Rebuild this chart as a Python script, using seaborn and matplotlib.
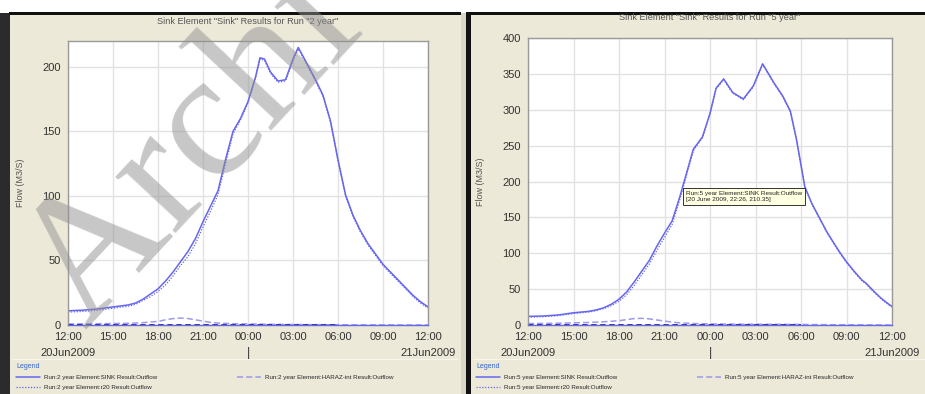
"""Sink element outflow hydrographs for the 2 year and 5 year runs."""
import matplotlib
matplotlib.use("Agg")
import matplotlib.pyplot as plt
from matplotlib.patches import Rectangle
import seaborn as sns

W, H = 925, 394

BLUE = "#6666EE"
LIGHT_BLUE = "#9A9AEE"
NAVY = "#22227A"
BEIGE = "#ECE9D8"

TICK_HOURS = [0, 3, 6, 9, 12, 15, 18, 21, 24]
TICK_LABELS = ["12:00", "15:00", "18:00", "21:00", "00:00", "03:00", "06:00", "09:00", "12:00"]

# 2 year run (hours after 20Jun2009 12:00)
HOURS_2YR = [0, 1, 2, 3, 4, 4.5, 5, 5.5, 6, 6.5, 7, 7.5, 8, 8.5, 9, 9.5, 10, 10.5, 11, 11.5,
             12, 12.5, 12.8, 13.1, 13.5, 14, 14.5, 15, 15.35, 16, 16.5, 17, 17.5, 18, 18.5,
             19, 19.5, 20, 20.5, 21, 21.5, 22, 22.5, 23, 23.5, 24]
SINK_2YR = [11, 11.5, 12.5, 14, 15.5, 17, 20, 24, 28, 34, 41, 49, 57, 67, 80, 92, 104, 128, 150, 160,
            173, 192, 207, 206, 196, 189, 190, 206, 215, 201, 190, 178, 158, 128, 101,
            85, 73, 63, 55, 47, 41, 35, 29, 23, 18, 14]
R20_2YR = [10, 10.5, 11.5, 13, 14.5, 16, 19, 22, 26, 31, 38, 46, 53, 63, 76, 88, 101, 125, 148, 159,
           172, 191, 206, 205, 195, 188, 189, 205, 214, 200, 189, 177, 157, 127, 100,
           84, 72, 62, 54, 46, 40, 34, 28, 22, 17, 13]
HOURS_HARAZ_2YR = [0, 2, 4, 5, 6, 6.5, 7, 7.5, 8, 8.5, 9, 9.5, 10, 11, 12, 14, 16, 18, 20, 24]
HARAZ_2YR = [0.8, 1, 1.3, 1.8, 2.8, 4, 5, 5.4, 5, 4, 3, 2, 1.5, 1, 0.8, 0.5, 0.3, 0.2, 0.1, 0]

# 5 year run
HOURS_5YR = [0, 1, 2, 3, 4, 4.5, 5, 5.5, 6, 6.5, 7, 7.5, 8, 8.5, 9, 9.5, 10, 10.43, 10.9, 11.5,
             12, 12.4, 12.9, 13.5, 14.2, 14.85, 15.47, 16.2, 16.8, 17.3, 17.7, 18.25, 18.7,
             19.2, 19.7, 20.2, 20.6, 21, 21.5, 22, 22.3, 22.8, 23.3, 23.85, 24]
SINK_5YR = [12, 12.5, 14, 17, 19, 21, 24, 29, 36, 46, 60, 75, 90, 110, 128, 145, 178, 210, 245, 262,
            295, 330, 343, 324, 315, 333, 364, 338, 319, 298, 259, 193, 170,
            150, 130, 113, 100, 88, 75, 63, 58, 47, 37, 28, 26]
R20_5YR = [11, 11.5, 13, 16, 18, 20, 23, 27, 33, 42, 55, 70, 85, 104, 122, 140, 174, 207, 243, 261,
           294, 329, 342, 323, 314, 332, 363, 337, 318, 297, 258, 192, 169,
           149, 129, 112, 99, 87, 74, 62, 57, 46, 36, 27, 25]
HOURS_HARAZ_5YR = [0, 2, 4, 5, 6, 6.5, 7, 7.5, 8, 8.5, 9, 9.5, 10, 11, 12, 14, 16, 18, 20, 24]
HARAZ_5YR = [2, 2.5, 3.5, 4.5, 6, 7.5, 9, 9.3, 8.5, 7, 5.5, 4, 3, 2, 1.5, 1.2, 1, 0.8, 0.4, 0]

# the dark dashed trace lying on the zero line until 06:00
BASE_HOURS = [0, 18]
BASE_FLOW = [0, 0]


def _rect(x0, y0, x1, y1):
    # pixel box (top-left origin) -> figure fraction
    return [x0 / W, 1 - y1 / H, (x1 - x0) / W, (y1 - y0) / H]


def _box(fig, x0, y0, x1, y1, color, z=0):
    l, b, w, h = _rect(x0, y0, x1, y1)
    fig.add_artist(Rectangle((l, b), w, h, transform=fig.transFigure,
                             facecolor=color, edgecolor="none", zorder=z))


def _draw_panel(fig, ax_box, legend_x, run, ymax, hours, sink, r20, hours_haraz, haraz):
    ax = fig.add_axes(_rect(*ax_box))
    ax.set_facecolor("white")

    sns.lineplot(x=hours, y=r20, ax=ax, color=BLUE, lw=0.9, linestyle=(0, (1, 1.3)),
                 label=f"Run:{run} Element:r20 Result:Outflow")
    sns.lineplot(x=hours, y=sink, ax=ax, color=BLUE, lw=1.1,
                 label=f"Run:{run} Element:SINK Result:Outflow")
    sns.lineplot(x=hours_haraz, y=haraz, ax=ax, color=LIGHT_BLUE, lw=1.1, linestyle=(0, (4, 2)),
                 label=f"Run:{run} Element:HARAZ-int Result:Outflow")
    sns.lineplot(x=BASE_HOURS, y=BASE_FLOW, ax=ax, color=NAVY, lw=1.3, linestyle=(0, (3, 2)))

    ax.set_xlim(0, 24)
    ax.set_ylim(0, ymax)
    ax.set_xticks(TICK_HOURS, TICK_LABELS)
    ax.set_yticks(list(range(0, int(ymax) + 1, 50)))
    ax.grid(True, color="#E2E2E2", lw=1)
    ax.set_axisbelow(True)
    ax.tick_params(axis="both", labelsize=8, colors="#555555", labelcolor="#333333",
                   length=3, width=0.8, pad=2)
    for sp in ax.spines.values():
        sp.set_color("#9A9A9A")
        sp.set_linewidth(1)
    ax.spines["bottom"].set_color(BLUE)
    ax.set_xlabel("")
    ax.set_ylabel("Flow (M3/S)", fontsize=6.5, color="#555555")
    ax.yaxis.set_label_coords((legend_x + 10 - ax_box[0]) / (ax_box[2] - ax_box[0]), 0.5)

    # date labels under the first / last tick and the midnight marker
    for hx, txt in [(0, "20Jun2009"), (12, "|"), (24, "21Jun2009")]:
        ax.annotate(txt, xy=(hx, 0), xycoords=("data", "axes fraction"), xytext=(0, -20),
                    textcoords="offset points", ha="center", va="center",
                    fontsize=8 if txt != "|" else 9, color="#333333")

    cx = (ax_box[0] + ax_box[2]) / 2
    fig.text(cx / W, 1 - (ax_box[1] - 20) / H,
             f'Sink Element "Sink" Results for Run "{run}"', ha="center", va="center",
             fontsize=6.6, color="#555555")

    # legend strip
    fig.text((legend_x + 1) / W, 1 - 367 / H, "Legend", fontsize=5, color="#3366CC",
             ha="left", va="center")
    handles, labels = ax.get_legend_handles_labels()
    ax.legend_ = None
    fig.legend([handles[1], handles[0]], [labels[1], labels[0]], loc="upper left",
               bbox_to_anchor=((legend_x + 1) / W, 1 - 375 / H), frameon=False,
               fontsize=4.5, handlelength=3.8, handletextpad=0.7, labelspacing=0.65,
               borderpad=0, borderaxespad=0)
    fig.legend([handles[2]], [labels[2]], loc="upper left",
               bbox_to_anchor=((legend_x + 222) / W, 1 - 375 / H), frameon=False,
               fontsize=4.5, handlelength=3.8, handletextpad=0.7, borderpad=0, borderaxespad=0)
    return ax


def sink_results():
    sns.set_style("white")
    plt.rcParams["font.family"] = ["Liberation Sans", "DejaVu Sans"]

    fig = plt.figure(figsize=(W / 100, H / 100), dpi=100)
    fig.patch.set_facecolor("white")

    # window chrome
    _box(fig, 9, 13, 461, H, BEIGE)
    _box(fig, 0, 13, 10, H, "#2B2B2B")
    _box(fig, 9, 12, 461, 15, "#111111")
    _box(fig, 461, 13, 467, H, "#D9D6C9")
    _box(fig, 470, 13, W, H, BEIGE)
    _box(fig, 466, 12, 471, H, "#111111")
    _box(fig, 466, 12, W, 15, "#111111")
    _box(fig, 12, 359, 458, 360, "#F7F5EC")
    _box(fig, 473, 359, W, 360, "#F7F5EC")

    _draw_panel(fig, (68, 41, 428, 325), 15, "2 year", 220,
                HOURS_2YR, SINK_2YR, R20_2YR, HOURS_HARAZ_2YR, HARAZ_2YR)
    ax = _draw_panel(fig, (528, 38, 892, 325), 475, "5 year", 400,
                     HOURS_5YR, SINK_5YR, R20_5YR, HOURS_HARAZ_5YR, HARAZ_5YR)

    ax.text(10.4, 187, "Run:5 year Element:SINK Result:Outflow\n[20 June 2009, 22:26, 210.35]",
            ha="left", va="top", fontsize=4.6, color="#222222", linespacing=1.35,
            bbox=dict(boxstyle="square,pad=0.4", facecolor="#FFFFE1", edgecolor="#333333", lw=0.7),
            zorder=5)

    # watermark over the left panel
    fig.text(85 / W, 1 - 330 / H, "Archi", rotation=47, rotation_mode="anchor",
             ha="left", va="baseline", fontsize=130, color="#909090", alpha=0.5,
             family=["Liberation Serif"], zorder=10)

    fig.savefig("out.png", dpi=100)


if __name__ == "__main__":
    sink_results()
